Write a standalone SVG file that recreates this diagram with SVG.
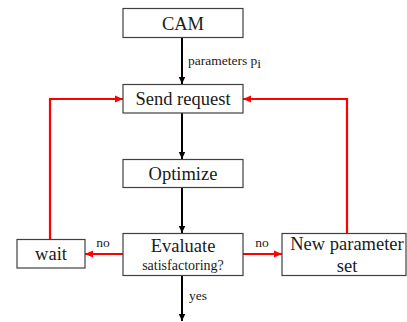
<svg xmlns="http://www.w3.org/2000/svg" width="407" height="322" viewBox="0 0 407 322">
  <style>
    .box { fill: #ffffff; stroke: #404040; stroke-width: 1.2; }
    .lbl { font-family: "Liberation Serif", "Times New Roman", serif; fill: #1a1a1a; text-anchor: middle; }
    .start { text-anchor: start; }
    .big { font-size: 18.5px; }
    .small { font-size: 13.5px; }
    .flow { fill: none; stroke: #000000; stroke-width: 2; }
    .loop { fill: none; stroke: #ff0000; stroke-width: 2.2; }
  </style>
  <defs>
    <marker id="ahBlack" markerWidth="8" markerHeight="8" refX="7" refY="4" orient="auto" markerUnits="userSpaceOnUse">
      <path d="M0,0.8 L7,4 L0,7.2 Z" fill="#000000"/>
    </marker>
    <marker id="ahRed" markerWidth="9" markerHeight="9" refX="8" refY="4.5" orient="auto" markerUnits="userSpaceOnUse">
      <path d="M0,1 L8,4.5 L0,8 Z" fill="#ff0000"/>
    </marker>
  </defs>

  <rect width="407" height="322" fill="#ffffff"/>

  <g id="connectors">
    <!-- main downward flow -->
    <line class="flow" x1="182" y1="37" x2="182" y2="84" marker-end="url(#ahBlack)"/>
    <line class="flow" x1="182" y1="113" x2="182" y2="159" marker-end="url(#ahBlack)"/>
    <line class="flow" x1="182" y1="187" x2="182" y2="233" marker-end="url(#ahBlack)"/>
    <line class="flow" x1="182" y1="275" x2="182" y2="321" marker-end="url(#ahBlack)"/>
    <!-- feedback loops -->
    <line class="loop" x1="123" y1="254" x2="85" y2="254" marker-end="url(#ahRed)"/>
    <line class="loop" x1="243" y1="254" x2="282" y2="254" marker-end="url(#ahRed)"/>
    <polyline class="loop" points="50,239 50,99 123,99" marker-end="url(#ahRed)"/>
    <polyline class="loop" points="347,233 347,99 243,99" marker-end="url(#ahRed)"/>
    <!-- edge labels -->
    <text class="lbl small start" x="188" y="65">parameters p<tspan dy="3">i</tspan></text>
    <text class="lbl small" x="103" y="247">no</text>
    <text class="lbl small" x="262" y="247">no</text>
    <text class="lbl small" x="198" y="300">yes</text>
  </g>

  <g id="cam">
    <rect class="box" x="123" y="8.5" width="120" height="29"/>
    <text class="lbl big" x="183" y="29.5">CAM</text>
  </g>

  <g id="send-request">
    <rect class="box" x="123" y="84.5" width="120" height="28.5"/>
    <text class="lbl big" x="183" y="104.5">Send request</text>
  </g>

  <g id="optimize">
    <rect class="box" x="123" y="159.5" width="120" height="28"/>
    <text class="lbl big" x="183" y="179.5">Optimize</text>
  </g>

  <g id="evaluate">
    <rect class="box" x="123" y="233.5" width="120" height="42"/>
    <text class="lbl big" x="183" y="251.5">Evaluate</text>
    <text class="lbl" font-size="14" x="183" y="270">satisfactoring?</text>
  </g>

  <g id="wait">
    <rect class="box" x="17" y="239.5" width="68" height="28.5"/>
    <text class="lbl big" x="51" y="260">wait</text>
  </g>

  <g id="new-parameter-set">
    <rect class="box" x="282" y="233.5" width="124" height="42"/>
    <text class="lbl big" x="347" y="249.5">New parameter</text>
    <text class="lbl big" x="347" y="271.5">set</text>
  </g>
</svg>
